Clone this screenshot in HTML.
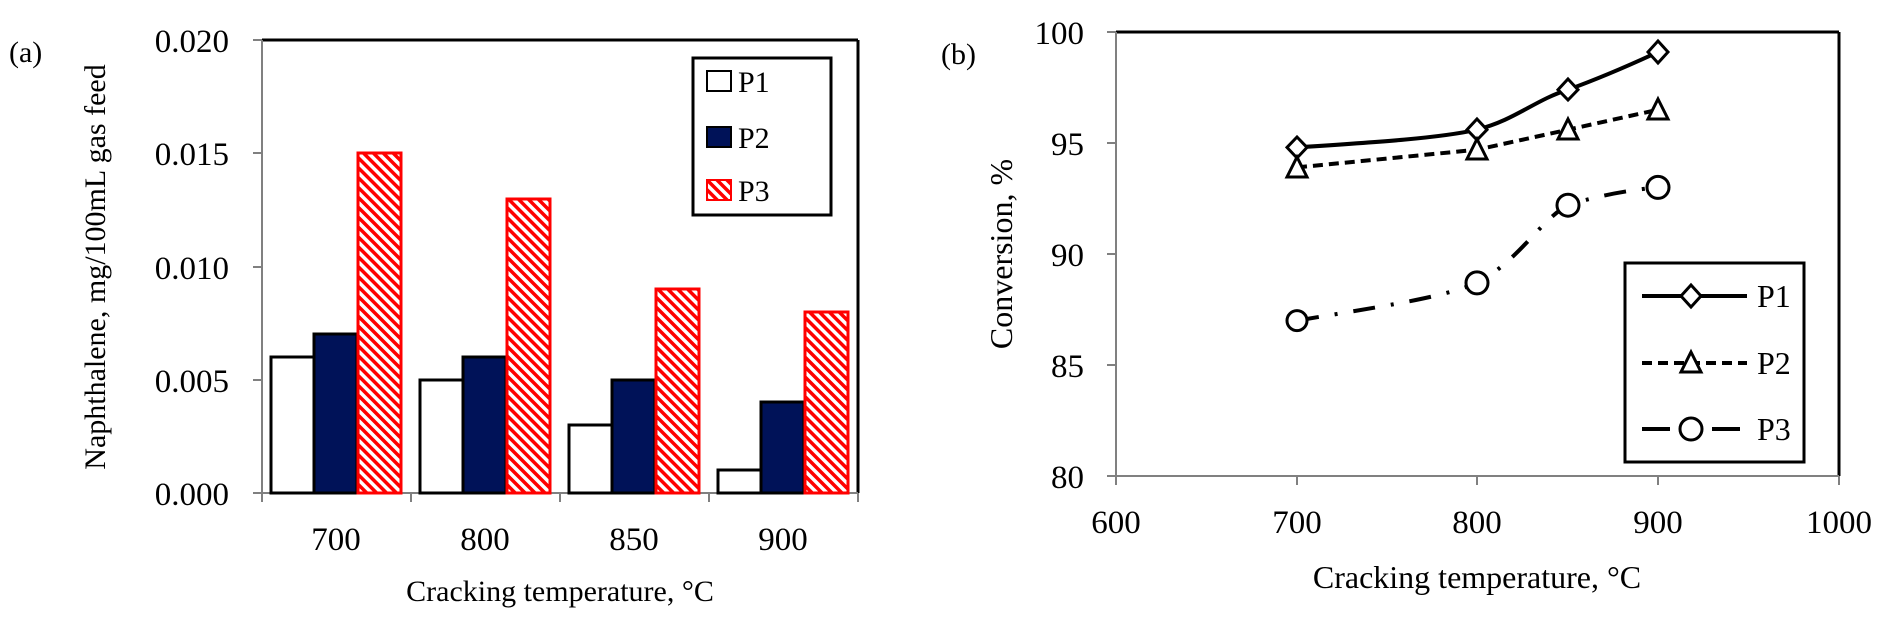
<!DOCTYPE html>
<html><head><meta charset="utf-8"><style>
html,body{margin:0;padding:0;background:#fff;}
svg{display:block;}
text{font-family:"Liberation Serif",serif;fill:#000;}
</style></head><body>
<svg width="1887" height="622" viewBox="0 0 1887 622" xmlns="http://www.w3.org/2000/svg">
<defs>
<pattern id="h" patternUnits="userSpaceOnUse" width="7" height="7" patternTransform="rotate(-45)">
<rect width="7" height="7" fill="#fff"/><rect width="3.5" height="7" fill="#f00"/>
</pattern>
</defs>
<!-- LEFT CHART -->
<text x="9" y="62" font-size="30">(a)</text>
<line x1="262" y1="40" x2="858" y2="40" stroke="#000" stroke-width="3"/>
<line x1="858" y1="40" x2="858" y2="493" stroke="#000" stroke-width="3"/>
<line x1="262" y1="40" x2="262" y2="493" stroke="#808080" stroke-width="2"/>
<line x1="262" y1="493" x2="858" y2="493" stroke="#808080" stroke-width="2"/>
<g stroke="#808080" stroke-width="2">
<line x1="253" y1="40" x2="262" y2="40"/><line x1="253" y1="153" x2="262" y2="153"/><line x1="253" y1="267" x2="262" y2="267"/><line x1="253" y1="380" x2="262" y2="380"/><line x1="253" y1="493" x2="262" y2="493"/>
<line x1="262" y1="493" x2="262" y2="502"/><line x1="411" y1="493" x2="411" y2="502"/><line x1="560" y1="493" x2="560" y2="502"/><line x1="709" y1="493" x2="709" y2="502"/><line x1="858" y1="493" x2="858" y2="502"/>
</g>
<g font-size="33" text-anchor="end">
<text x="229" y="52">0.020</text><text x="229" y="165">0.015</text><text x="229" y="279">0.010</text><text x="229" y="392">0.005</text><text x="229" y="505">0.000</text>
</g>
<g font-size="33" text-anchor="middle">
<text x="336" y="550">700</text><text x="485" y="550">800</text><text x="634" y="550">850</text><text x="783" y="550">900</text>
</g>
<text x="560" y="601" font-size="30" text-anchor="middle">Cracking temperature, °C</text>
<text transform="translate(105,267) rotate(-90)" font-size="30" text-anchor="middle">Naphthalene, mg/100mL gas feed</text>
<!-- bars -->
<g stroke-width="3">
<rect x="271" y="357" width="43" height="136" fill="#fff" stroke="#000"/>
<rect x="314" y="334" width="43" height="159" fill="#001258" stroke="#000"/>
<rect x="358" y="153" width="43" height="340" fill="url(#h)" stroke="#f00"/>
<rect x="420" y="380" width="43" height="113" fill="#fff" stroke="#000"/>
<rect x="463" y="357" width="43" height="136" fill="#001258" stroke="#000"/>
<rect x="507" y="199" width="43" height="294" fill="url(#h)" stroke="#f00"/>
<rect x="569" y="425" width="43" height="68" fill="#fff" stroke="#000"/>
<rect x="612" y="380" width="43" height="113" fill="#001258" stroke="#000"/>
<rect x="656" y="289" width="43" height="204" fill="url(#h)" stroke="#f00"/>
<rect x="718" y="470" width="43" height="23" fill="#fff" stroke="#000"/>
<rect x="761" y="402" width="43" height="91" fill="#001258" stroke="#000"/>
<rect x="805" y="312" width="43" height="181" fill="url(#h)" stroke="#f00"/>
</g>
<!-- legend left -->
<rect x="693" y="58" width="138" height="157" fill="#fff" stroke="#000" stroke-width="3"/>
<rect x="707" y="71" width="24" height="20" fill="#fff" stroke="#000" stroke-width="2"/>
<rect x="707" y="127" width="24" height="20" fill="#001258" stroke="#000" stroke-width="2"/>
<rect x="707" y="180" width="24" height="20" fill="url(#h)" stroke="#f00" stroke-width="2"/>
<g font-size="30"><text x="738" y="92">P1</text><text x="738" y="148">P2</text><text x="738" y="201">P3</text></g>

<!-- RIGHT CHART -->
<text x="941" y="64" font-size="30">(b)</text>
<line x1="1116" y1="32" x2="1839" y2="32" stroke="#000" stroke-width="3"/>
<line x1="1839" y1="32" x2="1839" y2="476" stroke="#000" stroke-width="3"/>
<line x1="1116" y1="32" x2="1116" y2="476" stroke="#808080" stroke-width="2"/>
<line x1="1116" y1="476" x2="1839" y2="476" stroke="#808080" stroke-width="2"/>
<g stroke="#808080" stroke-width="2">
<line x1="1107" y1="32" x2="1116" y2="32"/><line x1="1107" y1="143" x2="1116" y2="143"/><line x1="1107" y1="254" x2="1116" y2="254"/><line x1="1107" y1="365" x2="1116" y2="365"/><line x1="1107" y1="476" x2="1116" y2="476"/>
<line x1="1116" y1="476" x2="1116" y2="485"/><line x1="1297" y1="476" x2="1297" y2="485"/><line x1="1477" y1="476" x2="1477" y2="485"/><line x1="1658" y1="476" x2="1658" y2="485"/><line x1="1839" y1="476" x2="1839" y2="485"/>
</g>
<g font-size="33" text-anchor="end">
<text x="1084" y="44">100</text><text x="1084" y="155">95</text><text x="1084" y="266">90</text><text x="1084" y="377">85</text><text x="1084" y="488">80</text>
</g>
<g font-size="33" text-anchor="middle">
<text x="1116" y="533">600</text><text x="1297" y="533">700</text><text x="1477" y="533">800</text><text x="1658" y="533">900</text><text x="1839" y="533">1000</text>
</g>
<text x="1477" y="588" font-size="32" text-anchor="middle">Cracking temperature, °C</text>
<text transform="translate(1012,254) rotate(-90)" font-size="32" text-anchor="middle">Conversion, %</text>
<!-- series -->
<path d="M1297,147.4 C1380,142 1440,138 1477,129.7 C1515,120 1535,100 1568,89.7 C1600,78 1630,65 1658,52" fill="none" stroke="#000" stroke-width="4"/>
<polyline points="1297,167.4 1477,149.7 1568,129.7 1658,109.7" fill="none" stroke="#000" stroke-width="4" stroke-dasharray="10,6"/>
<path d="M1297,320.6 C1390,305 1440,298 1477,282.9 C1520,260 1540,220 1568,205.2 C1600,195 1630,190 1658,187.4" fill="none" stroke="#000" stroke-width="4" stroke-dasharray="22,16,3,16"/>
<g fill="#fff" stroke="#000" stroke-width="3">
<polygon points="1297,137 1307,147.4 1297,158 1287,147.4"/>
<polygon points="1477,119 1487,129.7 1477,140 1467,129.7"/>
<polygon points="1568,79 1578,89.7 1568,100 1558,89.7"/>
<polygon points="1658,41 1668,52 1658,63 1648,52"/>
<polygon points="1297,157 1307,177 1287,177"/>
<polygon points="1477,139 1487,159 1467,159"/>
<polygon points="1568,119 1578,139 1558,139"/>
<polygon points="1658,99 1668,119 1648,119"/>
<circle cx="1297" cy="320.6" r="10"/>
<circle cx="1477" cy="282.9" r="11"/>
<circle cx="1568" cy="205.2" r="11"/>
<circle cx="1658" cy="187.4" r="11"/>
</g>
<!-- legend right -->
<rect x="1625" y="263" width="179" height="199" fill="#fff" stroke="#000" stroke-width="3"/>
<line x1="1642" y1="296" x2="1747" y2="296" stroke="#000" stroke-width="4"/>
<line x1="1642" y1="363" x2="1747" y2="363" stroke="#000" stroke-width="4" stroke-dasharray="10,6"/>
<line x1="1642" y1="429" x2="1670" y2="429" stroke="#000" stroke-width="4"/>
<line x1="1712" y1="429" x2="1740" y2="429" stroke="#000" stroke-width="4"/>
<g fill="#fff" stroke="#000" stroke-width="3">
<polygon points="1691,285 1701,296 1691,307 1681,296"/>
<polygon points="1691,352 1701,372 1681,372"/>
<circle cx="1691" cy="429" r="11"/>
</g>
<g font-size="32"><text x="1757" y="307">P1</text><text x="1757" y="374">P2</text><text x="1757" y="440">P3</text></g>
</svg>
</body></html>
